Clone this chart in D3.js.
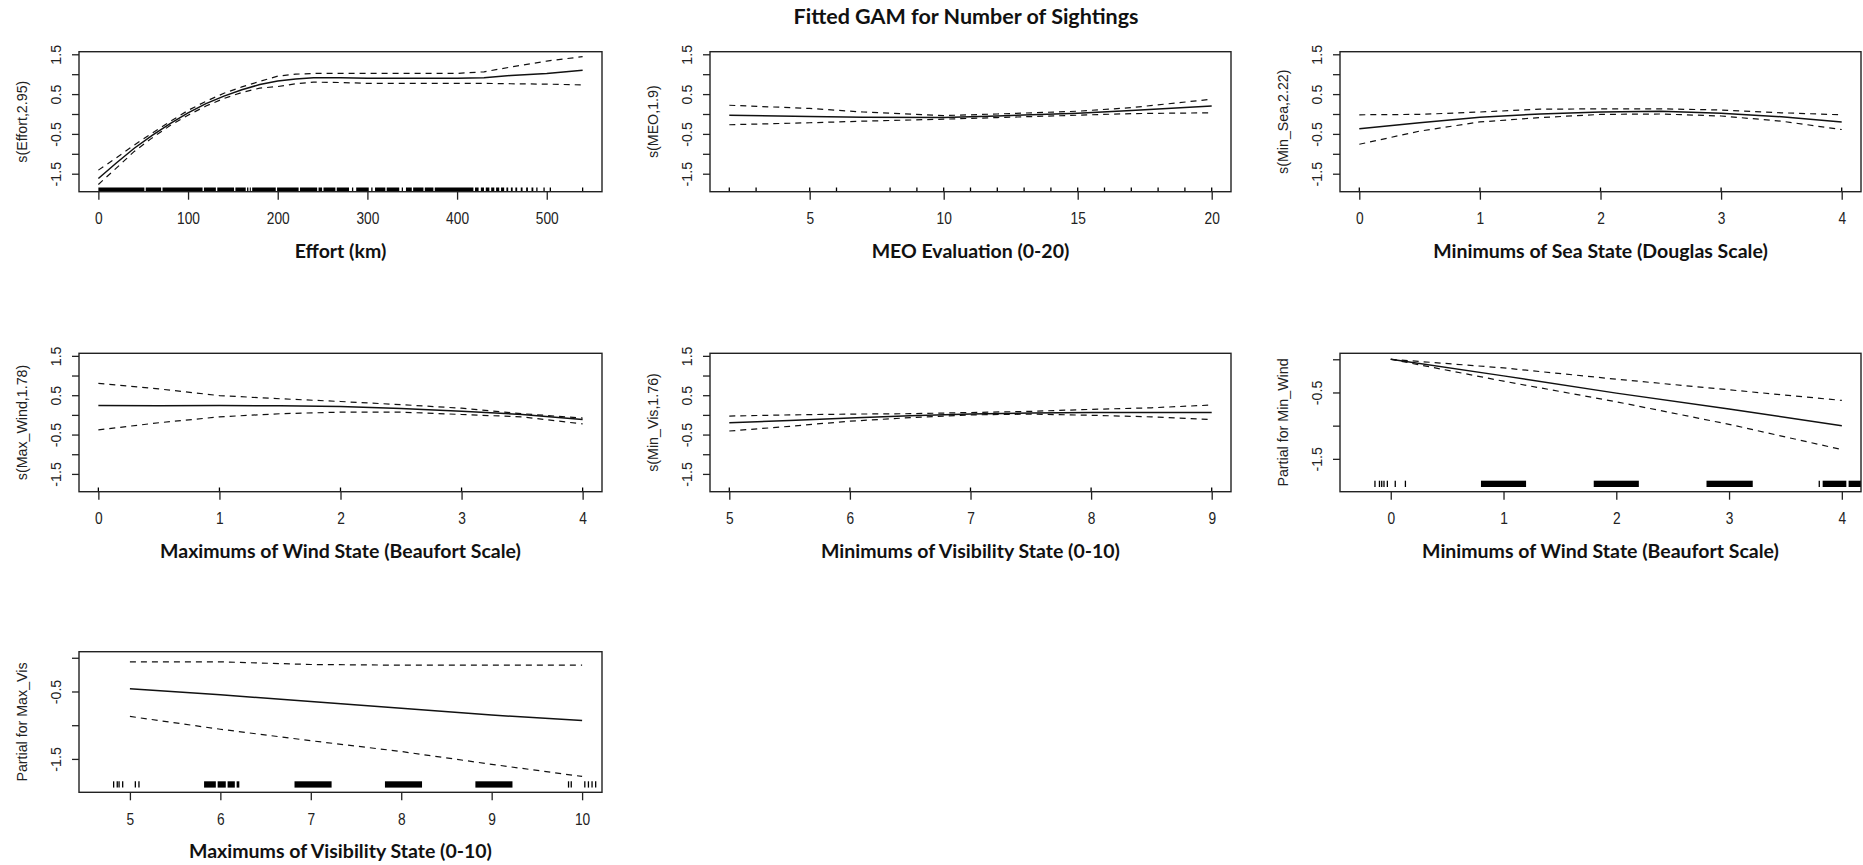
<!DOCTYPE html>
<html>
<head>
<meta charset="utf-8">
<script src="https://cdn.jsdelivr.net/npm/d3@7"></script>
<style>
body { margin: 0; background: #fff; }
svg { display: block; }
.xtick text { font-family: "Liberation Sans", Arial, sans-serif; font-size: 16px; fill: #222; }
.ytick text { font-family: "Liberation Sans", Arial, sans-serif; font-size: 15px; fill: #222; }
.ttl { font-family: Lato, "Open Sans", sans-serif; font-weight: 700; fill: #111; }
.ylab { font-family: "Liberation Sans", Arial, sans-serif; font-size: 15px; fill: #222; }
</style>
</head>
<body>
<div id="chart"></div>
<script>
// ---- Data ----

// Effort (km)
var effortKm    = [0, 20, 40, 60, 80, 100, 120, 140, 160, 180, 200, 220, 240, 270, 300, 350, 400, 430, 460, 500, 540];
var effortFit   = [-1.62, -1.23, -0.86, -0.54, -0.24, 0.03, 0.26, 0.45, 0.61, 0.74, 0.83, 0.88, 0.91, 0.91, 0.90, 0.90, 0.90, 0.91, 0.97, 1.02, 1.10];
var effortUpper = [-1.41, -1.10, -0.78, -0.48, -0.19, 0.09, 0.32, 0.52, 0.68, 0.82, 0.95, 1.00, 1.02, 1.02, 1.02, 1.02, 1.02, 1.06, 1.18, 1.33, 1.44];
var effortLower = [-1.77, -1.36, -0.94, -0.60, -0.29, -0.03, 0.20, 0.39, 0.54, 0.65, 0.69, 0.76, 0.80, 0.79, 0.77, 0.77, 0.77, 0.77, 0.76, 0.75, 0.73];
var effortRugSpans = [[0, 51.3], [52.8, 70], [71.5, 116.2], [117.7, 131], [132.6, 151.3], [152.8, 164.3],
    [165.8, 167.3], [168.8, 170], [171.5, 197.8], [199.3, 223.3], [224.8, 244], [245.5, 249.5],
    [251, 264.3], [265.8, 279.5], [287.5, 301.5], [308.5, 320], [321.5, 335.5], [343, 349.5],
    [351, 362.5], [364, 373.6], [375.1, 418.2], [420, 424], [426.5, 430], [432, 436], [438, 441.5],
    [443.5, 447], [449, 452.5], [455, 457], [460, 462], [465, 467], [471, 473], [477, 479], [483, 485]];
var effortRugTicks = [283.5, 305, 339, 489, 497, 504, 540];
var effortXTicks = [0, 100, 200, 300, 400, 500];

// MEO evaluation
var meoX     = [2, 5, 7, 10, 12, 15, 17, 20];
var meoFit   = [-0.03, -0.06, -0.08, -0.09, -0.05, 0.02, 0.09, 0.20];
var meoUpper = [0.22, 0.14, 0.05, -0.04, 0.00, 0.07, 0.16, 0.37];
var meoLower = [-0.27, -0.22, -0.18, -0.13, -0.09, -0.03, 0.01, 0.03];
var meoRugTicks = [2, 3, 5, 6, 8, 9, 10, 11, 12, 13, 14, 15, 16, 17, 18, 19, 20];
var meoXTicks = [5, 10, 15, 20];

// Minimums of sea state
var minSeaX     = [0, 0.5, 1, 1.5, 2, 2.5, 3, 3.5, 4];
var minSeaFit   = [-0.37, -0.22, -0.08, 0.00, 0.05, 0.07, 0.02, -0.07, -0.20];
var minSeaUpper = [-0.02, -0.01, 0.05, 0.12, 0.13, 0.13, 0.10, 0.03, -0.02];
var minSeaLower = [-0.76, -0.43, -0.20, -0.09, -0.01, 0.00, -0.05, -0.18, -0.39];
var minSeaRugTicks = [0, 1, 2, 3, 4];
var minSeaXTicks = [0, 1, 2, 3, 4];

// Maximums of wind state
var maxWindX     = [0, 0.5, 1, 1.5, 2, 2.5, 3, 3.5, 4];
var maxWindFit   = [0.24, 0.23, 0.24, 0.23, 0.21, 0.16, 0.09, 0.01, -0.12];
var maxWindUpper = [0.80, 0.66, 0.49, 0.41, 0.34, 0.26, 0.17, 0.03, -0.08];
var maxWindLower = [-0.38, -0.20, -0.05, 0.03, 0.07, 0.07, 0.01, -0.05, -0.23];
var maxWindRugTicks = [0, 1, 2, 3, 4];
var maxWindXTicks = [0, 1, 2, 3, 4];

// Minimums of visibility state
var minVisX     = [5, 5.5, 6, 6.5, 7, 7.5, 8, 8.5, 9];
var minVisFit   = [-0.20, -0.14, -0.08, -0.02, 0.02, 0.05, 0.06, 0.06, 0.06];
var minVisUpper = [-0.03, 0.00, 0.02, 0.03, 0.06, 0.09, 0.14, 0.18, 0.25];
var minVisLower = [-0.41, -0.29, -0.16, -0.07, 0.00, 0.02, -0.01, -0.05, -0.12];
var minVisRugTicks = [5, 6, 7, 8, 9];
var minVisXTicks = [5, 6, 7, 8, 9];

// Minimums of wind state (partial, linear term)
var minWindX     = [0, 1, 2, 3, 4];
var minWindFit   = [0.00, -0.25, -0.51, -0.75, -1.00];
var minWindUpper = [0.00, -0.13, -0.30, -0.46, -0.62];
var minWindLower = [0.00, -0.33, -0.64, -0.98, -1.36];
var minWindRugTicks = [-0.14, -0.10, -0.08, -0.06, -0.03, 0.04, 0.13, 3.80];
var minWindRugSpans = [[0.80, 1.20], [1.80, 2.20], [2.80, 3.21], [3.83, 4.04], [4.06, 4.30]];
var minWindXTicks = [0, 1, 2, 3, 4];

// Maximums of visibility state (partial, linear term)
var maxVisX     = [5, 6, 7, 8, 9, 10];
var maxVisFit   = [-0.46, -0.55, -0.65, -0.75, -0.85, -0.93];
var maxVisUpper = [-0.06, -0.06, -0.10, -0.11, -0.11, -0.11];
var maxVisLower = [-0.87, -1.06, -1.23, -1.39, -1.58, -1.76];
var maxVisRugTicks = [4.82, 4.86, 4.88, 4.92, 5.06, 5.10, 9.85, 9.88, 10.03, 10.07, 10.11, 10.15];
var maxVisRugSpans = [[5.82, 5.95], [5.97, 6.06], [6.08, 6.16], [6.18, 6.21], [6.82, 7.23], [7.82, 8.23], [8.82, 9.23]];
var maxVisXTicks = [5, 6, 7, 8, 9, 10];

// y axis ticks
var smoothYTicks  = [-1.5, -1, -0.5, 0, 0.5, 1, 1.5];
var smoothYLabels = [-1.5, -0.5, 0.5, 1.5];
var partialYTicks  = [-1.5, -1, -0.5, 0];
var partialYLabels = [-1.5, -0.5];

// ---- Layout ----
var svgWidth = 1863;
var svgHeight = 865;

var svg = d3.select('#chart')
    .append('svg')
    .attr('width', svgWidth)
    .attr('height', svgHeight);

// plot region boxes for the 3x3 grid
var cols = [[79, 602], [710, 1231], [1340, 1861]];
var rows = [[51.7, 191.7], [353.3, 491.7], [651.7, 792.3]];

var smoothY = [-1.952, 1.565];
var partialY = [-1.995, 0.09];

var panels = [
    {col: 0, row: 0, xDomain: [-21.6, 561.6], yDomain: smoothY, xTicks: effortXTicks,
        yTicks: smoothYTicks, yLabels: smoothYLabels, x: effortKm, fit: effortFit, upper: effortUpper, lower: effortLower,
        rugTicks: effortRugTicks, rugSpans: effortRugSpans, rugType: 'gam',
        xTitle: 'Effort (km)', yTitle: 's(Effort,2.95)'},
    {col: 1, row: 0, xDomain: [1.28, 20.72], yDomain: smoothY, xTicks: meoXTicks,
        yTicks: smoothYTicks, yLabels: smoothYLabels, x: meoX, fit: meoFit, upper: meoUpper, lower: meoLower,
        rugTicks: meoRugTicks, rugSpans: [], rugType: 'gam',
        xTitle: 'MEO Evaluation (0-20)', yTitle: 's(MEO,1.9)'},
    {col: 2, row: 0, xDomain: [-0.16, 4.16], yDomain: smoothY, xTicks: minSeaXTicks,
        yTicks: smoothYTicks, yLabels: smoothYLabels, x: minSeaX, fit: minSeaFit, upper: minSeaUpper, lower: minSeaLower,
        rugTicks: minSeaRugTicks, rugSpans: [], rugType: 'gam',
        xTitle: 'Minimums of Sea State (Douglas Scale)', yTitle: 's(Min_Sea,2.22)'},
    {col: 0, row: 1, xDomain: [-0.16, 4.16], yDomain: smoothY, xTicks: maxWindXTicks,
        yTicks: smoothYTicks, yLabels: smoothYLabels, x: maxWindX, fit: maxWindFit, upper: maxWindUpper, lower: maxWindLower,
        rugTicks: maxWindRugTicks, rugSpans: [], rugType: 'gam',
        xTitle: 'Maximums of Wind State (Beaufort Scale)', yTitle: 's(Max_Wind,1.78)'},
    {col: 1, row: 1, xDomain: [4.84, 9.16], yDomain: smoothY, xTicks: minVisXTicks,
        yTicks: smoothYTicks, yLabels: smoothYLabels, x: minVisX, fit: minVisFit, upper: minVisUpper, lower: minVisLower,
        rugTicks: minVisRugTicks, rugSpans: [], rugType: 'gam',
        xTitle: 'Minimums of Visibility State (0-10)', yTitle: 's(Min_Vis,1.76)'},
    {col: 2, row: 1, xDomain: [-0.45, 4.17], yDomain: partialY, xTicks: minWindXTicks,
        yTicks: partialYTicks, yLabels: partialYLabels, x: minWindX, fit: minWindFit, upper: minWindUpper, lower: minWindLower,
        rugTicks: minWindRugTicks, rugSpans: minWindRugSpans, rugType: 'term',
        xTitle: 'Minimums of Wind State (Beaufort Scale)', yTitle: 'Partial for Min_Wind'},
    {col: 0, row: 2, xDomain: [4.437, 10.22], yDomain: partialY, xTicks: maxVisXTicks,
        yTicks: partialYTicks, yLabels: partialYLabels, x: maxVisX, fit: maxVisFit, upper: maxVisUpper, lower: maxVisLower,
        rugTicks: maxVisRugTicks, rugSpans: maxVisRugSpans, rugType: 'term',
        xTitle: 'Maximums of Visibility State (0-10)', yTitle: 'Partial for Max_Vis'}
];

function drawPanel(p) {
    var left = cols[p.col][0], right = cols[p.col][1];
    var top = rows[p.row][0], bottom = rows[p.row][1];

    var xScale = d3.scaleLinear().domain(p.xDomain).range([left, right]);
    var yScale = d3.scaleLinear().domain(p.yDomain).range([bottom, top]);

    var g = svg.append('g');

    // x axis (ticks hang below the box)
    var xAxis = g.append('g')
        .attr('class', 'xtick')
        .attr('transform', `translate(0, ${bottom})`)
        .call(d3.axisBottom(xScale).tickValues(p.xTicks).tickSize(8).tickFormat(d3.format('d')));
    xAxis.select('.domain').remove();
    xAxis.selectAll('line').attr('stroke', '#222').attr('stroke-width', 1.3);
    xAxis.selectAll('text')
        .attr('y', 32.5)
        .attr('dy', null)
        .attr('transform', 'scale(0.86,1)');

    // y axis with rotated labels
    var yAxis = g.append('g')
        .attr('class', 'ytick')
        .attr('transform', `translate(${left}, 0)`)
        .call(d3.axisLeft(yScale).tickValues(p.yTicks).tickSize(7)
            .tickFormat((d) => p.yLabels.indexOf(d) >= 0 ? String(d) : ''));
    yAxis.select('.domain').remove();
    yAxis.selectAll('line').attr('stroke', '#222').attr('stroke-width', 1.3);
    yAxis.selectAll('text')
        .attr('x', null)
        .attr('dy', null)
        .attr('text-anchor', 'middle')
        .attr('transform', 'translate(-18,0) rotate(-90) scale(0.95,1)');

    // rug
    var rugBottom = p.rugType === 'gam' ? bottom : bottom - 4.7;
    var rugTop = p.rugType === 'gam' ? bottom - 4.2 : bottom - 11;
    g.selectAll('rect.rugspan')
        .data(p.rugSpans)
        .enter()
        .append('rect')
        .attr('class', 'rugspan')
        .attr('x', (d) => xScale(d[0]))
        .attr('width', (d) => Math.min(xScale(d[1]), right) - xScale(d[0]))
        .attr('y', rugTop)
        .attr('height', rugBottom - rugTop)
        .attr('fill', '#000');
    g.selectAll('line.rugtick')
        .data(p.rugTicks)
        .enter()
        .append('line')
        .attr('class', 'rugtick')
        .attr('x1', (d) => xScale(d))
        .attr('x2', (d) => xScale(d))
        .attr('y1', rugTop)
        .attr('y2', rugBottom)
        .attr('stroke', '#000')
        .attr('stroke-width', 1.3);

    // fitted curve and bands
    var line = d3.line()
        .x((d, i) => xScale(p.x[i]))
        .y((d) => yScale(d));

    [p.upper, p.lower].forEach((band) => {
        g.append('path')
            .datum(band)
            .attr('d', line)
            .attr('fill', 'none')
            .attr('stroke', '#111')
            .attr('stroke-width', 1.2)
            .attr('stroke-dasharray', '6,5');
    });
    g.append('path')
        .datum(p.fit)
        .attr('d', line)
        .attr('fill', 'none')
        .attr('stroke', '#111')
        .attr('stroke-width', 1.5);

    // box
    g.append('rect')
        .attr('x', left)
        .attr('y', top)
        .attr('width', right - left)
        .attr('height', bottom - top)
        .attr('fill', 'none')
        .attr('stroke', '#222')
        .attr('stroke-width', 1.4);

    // titles
    g.append('text')
        .attr('class', 'ttl')
        .attr('x', (left + right) / 2)
        .attr('y', bottom + 66)
        .attr('text-anchor', 'middle')
        .style('font-size', '19.5px')
        .text(p.xTitle);

    g.append('text')
        .attr('class', 'ylab')
        .attr('transform', `translate(${left - 52}, ${(top + bottom) / 2}) rotate(-90) scale(0.95,1)`)
        .attr('text-anchor', 'middle')
        .text(p.yTitle);
}

panels.forEach(drawPanel);

// main title
svg.append('text')
    .attr('class', 'ttl')
    .attr('x', 966)
    .attr('y', 24)
    .attr('text-anchor', 'middle')
    .style('font-size', '21.5px')
    .text('Fitted GAM for Number of Sightings');
</script>
</body>
</html>
